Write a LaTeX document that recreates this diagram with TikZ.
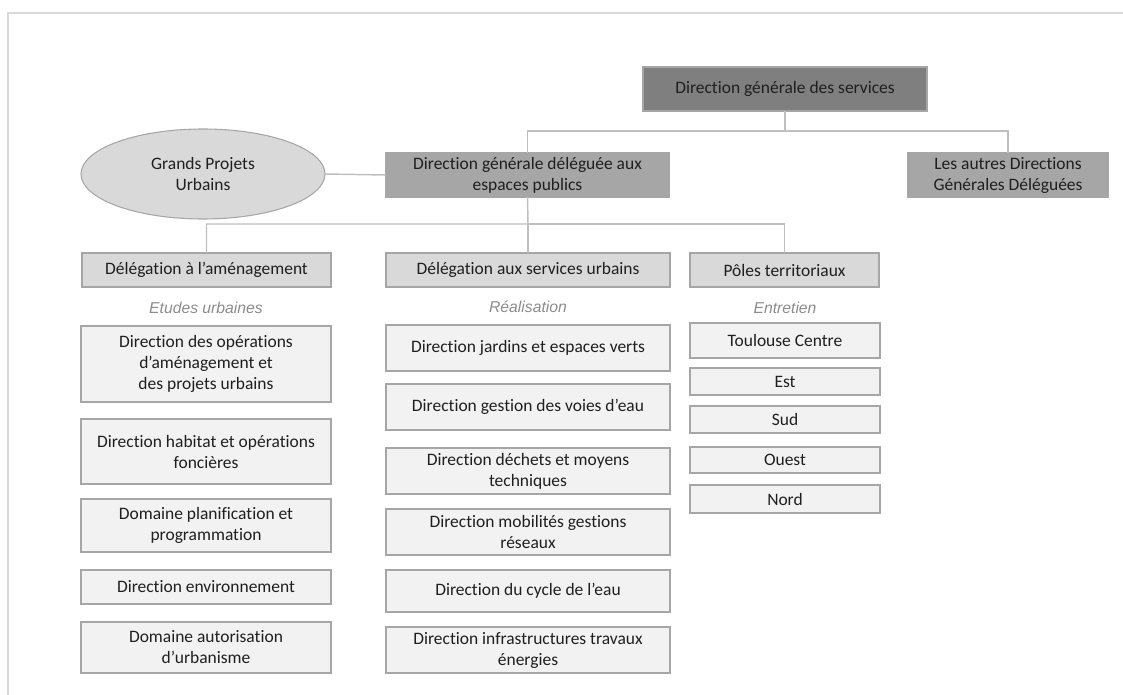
\documentclass[tikz,border=0pt]{standalone}
\usepackage{fontspec}
\setmainfont{Carlito}[Ligatures=NoCommon]
\newfontfamily\notefont{Liberation Sans}
\usepackage{tikz}
\usetikzlibrary{shapes.geometric}

\definecolor{txtgrey}{HTML}{1F1F1F}
\definecolor{notegrey}{HTML}{8C8C8C}
\definecolor{edgegrey}{HTML}{A6A6A6}
\definecolor{linkgrey}{HTML}{BFBFBF}
\definecolor{framegrey}{HTML}{D9D9D9}
\definecolor{fillA}{HTML}{7F7F7F}
\definecolor{fillB}{HTML}{A6A6A6}
\definecolor{fillC}{HTML}{D9D9D9}
\definecolor{fillD}{HTML}{F2F2F2}

\tikzset{
  sz/.style 2 args={minimum width=#1*0.75pt, minimum height=#2*0.75pt},
  unit/.style={draw=edgegrey, line width=0.8pt, inner sep=1pt, outer sep=0pt,
    align=center, text=txtgrey, font=\fontsize{13.1}{15.75}\selectfont},
  topbox/.style={unit, fill=fillA},
  dirbox/.style={unit, fill=fillB},
  delbox/.style={unit, fill=fillC},
  colbox/.style={unit, fill=fillD},
  note/.style={text=notegrey, font=\notefont\itshape\fontsize{11.8}{13}\selectfont},
  link/.style={draw=linkgrey, line width=1.1pt}
}

\begin{document}
\begin{tikzpicture}[x=0.75pt, y=-0.75pt]
    \useasboundingbox (0,0) rectangle (1123,695);
    % Frame
    \draw[framegrey, line width=1.2pt] (8,695) -- (8,13) -- (1123,13);
    % Top level
    \node[topbox, sz={284}{44}] (dgs) at (785,89) {Direction générale des services};
    \node[dirbox, sz={283}{44}] (dgd) at (527.5,175) {Direction générale déléguée aux\\espaces publics};
    \node[dirbox, sz={200}{44}] (autres) at (1008,175) {Les autres Directions\\Générales Déléguées};
    \node[unit, ellipse, fill=fillC, sz={244}{90}] (gpu) at (203,174) {Grands Projets\\Urbains};
    % Delegations
    \node[delbox, sz={249}{34}] (amen) at (206.5,270) {Délégation à l’aménagement};
    \node[delbox, sz={284}{34}] (serv) at (528,270) {Délégation aux services urbains};
    \node[delbox, sz={189}{34}] (poles) at (784.5,270) {Pôles territoriaux};
    % Connectors
    \coordinate (busA) at (785,131);
    \coordinate (busB) at (528,224);
    \draw[link] (dgs.south) -- (busA) -| (dgd.north);
    \draw[link] (busA) -| (autres.north);
    \draw[link] (gpu.east) -- (dgd.west);
    \draw[link] (dgd.south) -- (busB) -| (amen.north);
    \draw[link] (busB) -- (serv.north);
    \draw[link] (busB) -| (poles.north);
    % Column headings
    \node[note] (etudes) at (206,308) {Etudes urbaines};
    \node[note] (real) at (528,307) {Réalisation};
    \node[note] (entr) at (785,308) {Entretien};
    % Etudes urbaines
    \node[colbox, sz={250}{76}] (amen1) at (206,364) {Direction des opérations\\d’aménagement et\\des projets urbains};
    \node[colbox, sz={250}{65}] (amen2) at (206,451.5) {Direction habitat et opérations\\foncières};
    \node[colbox, sz={250}{53}] (amen3) at (206,525.5) {Domaine planification et\\programmation};
    \node[colbox, sz={250}{34}] (amen4) at (206,587) {Direction environnement};
    \node[colbox, sz={250}{51}] (amen5) at (206,647.5) {Domaine autorisation\\d’urbanisme};
    % Realisation
    \node[colbox, sz={284}{46}] (serv1) at (528,348) {Direction jardins et espaces verts};
    \node[colbox, sz={284}{46}] (serv2) at (528,407) {Direction gestion des voies d’eau};
    \node[colbox, sz={284}{46}] (serv3) at (528,471) {Direction déchets et moyens\\techniques};
    \node[colbox, sz={284}{46}] (serv4) at (528,532) {Direction mobilités gestions\\réseaux};
    \node[colbox, sz={284}{42}] (serv5) at (528,591) {Direction du cycle de l’eau};
    \node[colbox, sz={284}{46}] (serv6) at (528,650) {Direction infrastructures travaux\\énergies};
    % Entretien
    \node[colbox, sz={190}{35}] (pole1) at (785,340.5) {Toulouse Centre};
    \node[colbox, sz={190}{27}] (pole2) at (785,381.5) {Est};
    \node[colbox, sz={190}{27}] (pole3) at (785,419.5) {Sud};
    \node[colbox, sz={190}{26}] (pole4) at (785,460) {Ouest};
    \node[colbox, sz={190}{28}] (pole5) at (785,499) {Nord};
\end{tikzpicture}
\end{document}
